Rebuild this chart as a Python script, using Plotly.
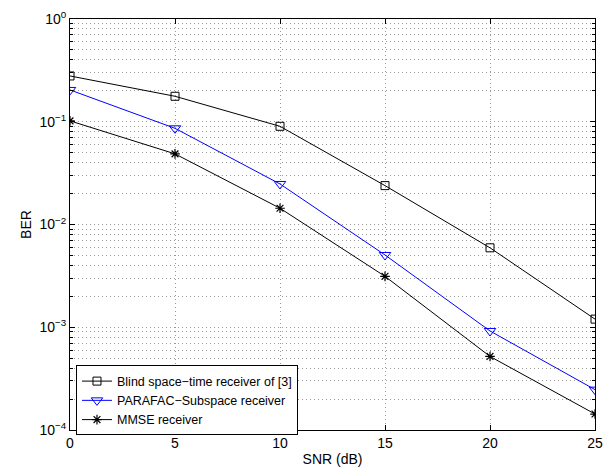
import plotly.graph_objects as go

snr = [0, 5, 10, 15, 20, 25]
ber_blind = [0.279, 0.177, 0.0903, 0.0239, 0.00593, 0.0012]
ber_parafac = [0.204, 0.0863, 0.0248, 0.00505, 0.00092, 0.000247]
ber_mmse = [0.102, 0.0487, 0.0144, 0.00313, 0.00052, 0.000143]

names = ["Blind space\u2212time receiver of [3]", "PARAFAC\u2212Subspace receiver", "MMSE receiver"]
x_ticks = [0, 5, 10, 15, 20, 25]
y_tickvals = [1e-4, 1e-3, 1e-2, 1e-1, 1]
y_ticktext = ["10<sup>\u22124</sup>", "10<sup>\u22123</sup>", "10<sup>\u22122</sup>", "10<sup>\u22121</sup>", "10<sup>0</sup>"]

font_family = "Liberation Sans, Arial, Helvetica, sans-serif"
grid_col = "#9a9a9a"
grid_dash = "1px,3px"

fig = go.Figure()
fig.add_trace(go.Scatter(x=snr, y=ber_blind, name=names[0], mode="lines+markers",
                         line=dict(color="black", width=1),
                         marker=dict(symbol="square-open", size=8, color="black", line=dict(width=1))))
fig.add_trace(go.Scatter(x=snr, y=ber_parafac, name=names[1], mode="lines+markers",
                         line=dict(color="#0000ff", width=1),
                         marker=dict(symbol="triangle-down-open", size=10, color="#0000ff", line=dict(width=1))))
fig.add_trace(go.Scatter(x=snr, y=ber_mmse, name=names[2], mode="lines+markers",
                         line=dict(color="black", width=1),
                         marker=dict(symbol="asterisk-open", size=8, color="black", line=dict(width=1.2))))

fig.update_layout(
    width=608, height=467,
    margin=dict(l=62, r=21, t=10, b=43),
    paper_bgcolor="white", plot_bgcolor="white",
    font=dict(family=font_family, size=14, color="black"),
    legend=dict(x=0.0114, y=0.157, xanchor="left", yanchor="top",
                bordercolor="black", borderwidth=1, bgcolor="white",
                font=dict(size=12.5), tracegroupgap=0, itemwidth=30),
    showlegend=True,
)
fig.update_xaxes(
    range=[0, 25], tickvals=x_ticks, ticks="inside", ticklen=5, tickcolor="black",
    showline=True, linecolor="black", linewidth=1, mirror="ticks",
    showgrid=True, gridcolor=grid_col, griddash=grid_dash, gridwidth=1,
    zeroline=False,
    title=dict(text="SNR (dB)", standoff=4, font=dict(size=14)),
    tickfont=dict(size=14),
)
fig.update_yaxes(
    type="log", range=[-4, 0], tickvals=y_tickvals, ticktext=y_ticktext,
    ticks="inside", ticklen=5, tickcolor="black",
    showline=True, linecolor="black", linewidth=1, mirror="ticks",
    showgrid=True, gridcolor=grid_col, griddash=grid_dash, gridwidth=1,
    minor=dict(ticks="inside", ticklen=3, tickcolor="black", showgrid=True,
               gridcolor=grid_col, griddash=grid_dash, gridwidth=1,
               tickvals=[m * 10 ** e for e in range(-4, 0) for m in range(2, 10)]),
    zeroline=False, automargin=False,
    title=dict(text="BER", standoff=4, font=dict(size=14)),
    tickfont=dict(size=14),
)

fig.write_html("out.html")
